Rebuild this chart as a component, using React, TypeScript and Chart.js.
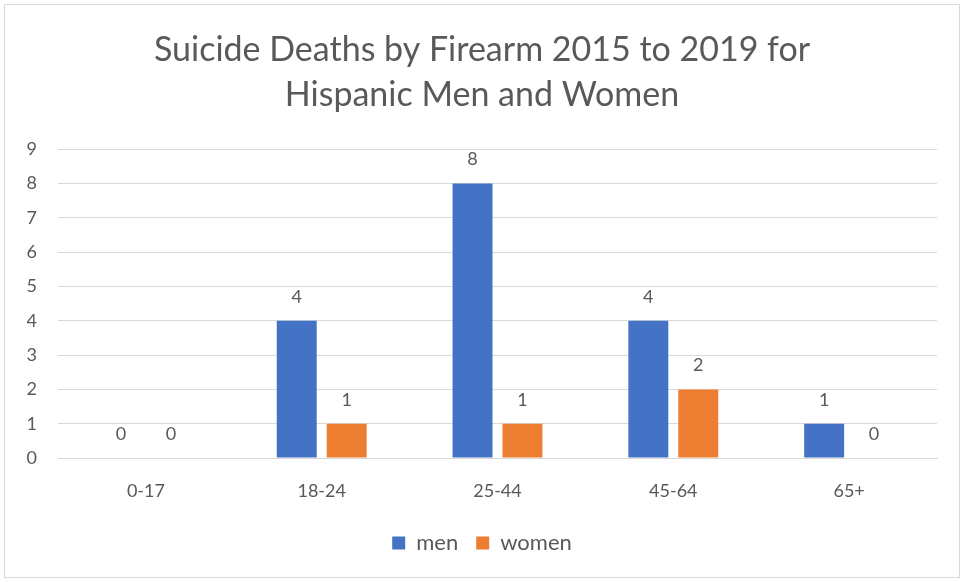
import React, { useEffect, useRef } from "react";
import { Chart, registerables } from "chart.js";

Chart.register(...registerables);

const categories = ["0-17", "18-24", "25-44", "45-64", "65+"];
const menValues = [0, 4, 8, 4, 1];
const womenValues = [0, 1, 1, 2, 0];
const titleLines = ["Suicide Deaths by Firearm 2015 to 2019 for", "Hispanic Men and Women"];

const FONT = "Lato, 'Open Sans', sans-serif";
const GRAY = "#595959";

const frame = {
  id: "frame",
  beforeDraw(chart: any) {
    const ctx = chart.ctx;
    ctx.save();
    ctx.fillStyle = "#ffffff";
    ctx.fillRect(0, 0, chart.width, chart.height);
    ctx.strokeStyle = "#d9d9d9";
    ctx.lineWidth = 1;
    ctx.strokeRect(4.5, 4.5, chart.width - 9, chart.height - 9);
    ctx.restore();
  },
};

const valueLabels = {
  id: "valueLabels",
  afterDatasetsDraw(chart: any) {
    const ctx = chart.ctx;
    ctx.save();
    ctx.font = `18px ${FONT}`;
    ctx.fillStyle = GRAY;
    ctx.textAlign = "center";
    ctx.textBaseline = "middle";
    chart.data.datasets.forEach((ds: any, i: number) => {
      const meta = chart.getDatasetMeta(i);
      meta.data.forEach((bar: any, j: number) => {
        ctx.fillText(String(ds.data[j]), bar.x, bar.y - 24);
      });
    });
    ctx.restore();
  },
};

export default function App() {
  const ref = useRef<HTMLCanvasElement>(null);
  useEffect(() => {
    const chart = new Chart(ref.current!, {
      type: "bar",
      data: {
        labels: categories,
        datasets: [
          { label: "men", data: menValues, backgroundColor: "#4472c4", categoryPercentage: 0.568, barPercentage: 0.8 },
          { label: "women", data: womenValues, backgroundColor: "#ed7d31", categoryPercentage: 0.568, barPercentage: 0.8 },
        ],
      },
      options: {
        responsive: false,
        animation: false,
        devicePixelRatio: 1,
        layout: { padding: { left: 27, right: 27, top: 10, bottom: 18 } },
        plugins: {
          title: {
            display: true,
            text: titleLines,
            color: GRAY,
            font: { family: FONT, size: 34, weight: "normal", lineHeight: 1.32 },
            padding: { top: 17.5, bottom: 32 },
          },
          legend: {
            position: "bottom",
            labels: {
              color: GRAY,
              font: { family: FONT, size: 22 },
              boxWidth: 13,
              boxHeight: 13,
              padding: 18,
            },
          },
          tooltip: { enabled: false },
        },
        scales: {
          x: {
            grid: { display: false, drawTicks: false },
            border: { color: "#d9d9d9" },
            ticks: { color: GRAY, font: { family: FONT, size: 18 }, padding: 22 },
            afterFit(scale: any) {
              scale.height = 56;
            },
          },
          y: {
            min: 0,
            max: 9,
            ticks: { stepSize: 1, color: GRAY, font: { family: FONT, size: 18 }, padding: 21 },
            grid: { color: "#d9d9d9", drawTicks: false },
            border: { display: false },
            afterFit(scale: any) {
              scale.width = 31;
            },
          },
        },
      },
      plugins: [frame, valueLabels],
    });
    return () => chart.destroy();
  }, []);
  return (
    <div style={{ position: "fixed", left: 0, top: 0, width: 964, height: 582 }}>
      <canvas ref={ref} width={964} height={582} />
    </div>
  );
}
